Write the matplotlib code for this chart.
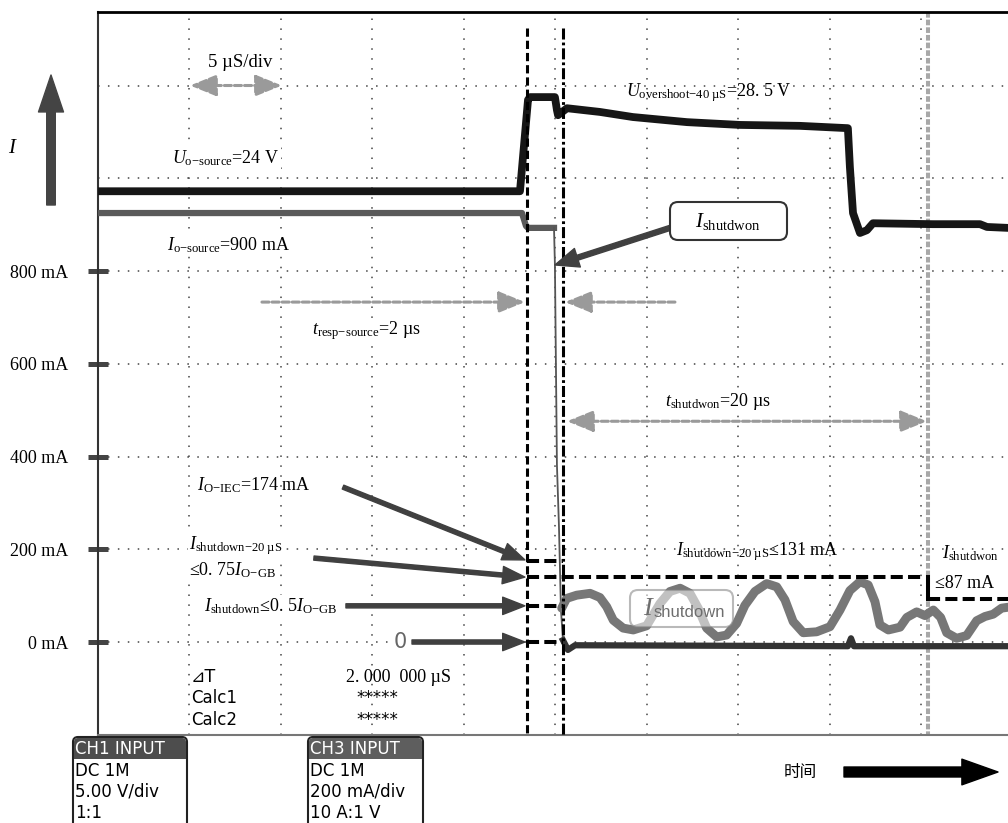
import matplotlib
matplotlib.use("Agg")
import matplotlib.pyplot as plt
from matplotlib.patches import FancyBboxPatch, FancyArrowPatch, Rectangle
from matplotlib.transforms import Affine2D

# ---------------------------------------------------------------------------
# data: time in us (5 us/div), level in mA on the CH3 scale (200 mA/div)
# ---------------------------------------------------------------------------
volt_t = [0.0, 23.06, 23.50, 23.61, 24.97, 25.08, 25.14, 25.63, 27.43, 29.23,
          32.19, 35.08, 38.36, 40.98, 41.09, 41.26, 41.64, 42.02, 42.35, 45.63,
          48.20, 48.58, 49.73]
volt_lvl = [972, 972, 1169, 1175, 1175, 1147, 1136, 1151, 1143, 1132,
            1121, 1115, 1113, 1108, 1024, 925, 882, 888, 903, 901,
            901, 895, 893]

cur_t = [0.0, 23.17, 23.39, 23.50, 24.92]
cur_lvl = [925, 925, 897, 893, 893]

drop_t = [24.92, 24.97, 25.08, 25.19, 25.30, 25.41]
drop_lvl = [893, 813, 382, 250, 69, 4]

zero_t = [25.41, 25.68, 26.07, 40.98, 41.15, 41.31, 49.73]
zero_lvl = [4, -17, -7, -9, 8, -9, -9]

wave_t = [25.34, 25.61, 26.16, 26.89, 27.43, 27.80, 28.16, 28.70, 29.25, 29.98,
          30.71, 31.26, 31.81, 32.35, 32.80, 33.26, 33.81, 34.35, 34.90, 35.35,
          35.90, 36.54, 37.09, 37.54, 37.99, 38.54, 39.27, 40.00, 40.55, 41.09,
          41.64, 42.09, 42.46, 42.73, 43.19, 43.83, 44.20, 44.74, 45.19, 45.65,
          46.05, 46.38, 46.92, 47.47, 48.02, 48.47, 48.92, 49.38, 49.73]
wave_lvl = [73, 94, 101, 105, 96, 76, 47, 30, 26, 35,
            83, 109, 116, 105, 73, 30, 11, 15, 40, 79,
            109, 126, 119, 91, 44, 20, 22, 33, 69, 111,
            130, 123, 87, 37, 26, 32, 53, 65, 57, 69,
            53, 20, 8, 14, 46, 55, 60, 73, 75]

t_trigger = 23.44       # black dashed cursor
t_response = 25.41      # black dash-dot cursor
t_after = 45.36         # grey dashed cursor, 20 us later
lvl_iec = 175
lvl_20us = 140
lvl_half = 78
lvl_after = 93

ytick_vals = [0, 200, 400, 600, 800]
ytick_labels = ["0 mA", "200 mA", "400 mA", "600 mA", "800 mA"]
grid_t = [5, 10, 15, 20, 25, 30, 35, 40, 45]
grid_lvl = [0, 200, 400, 600, 800, 1000, 1200]

ch1_rows = ["DC 1M", "5.00 V/div", "1:1"]
ch3_rows = ["DC 1M", "200 mA/div", "10 A:1 V"]

SERIF = "Liberation Serif"
BOXFONT = ["DejaVu Sans", "Noto Sans CJK SC"]
plt.rcParams["mathtext.fontset"] = "custom"
plt.rcParams["mathtext.rm"] = "Liberation Serif"
plt.rcParams["mathtext.it"] = "Liberation Serif:italic"
plt.rcParams["mathtext.sf"] = "Liberation Sans"

ARROW_C = "#404040"
GREY_C = "#9a9a9a"

fig = plt.figure(figsize=(10.08, 8.23), dpi=100)
ax = fig.add_axes([98 / 1008, 1 - 735 / 823, 910 / 1008, 723 / 823])
ax.set_xlim(0, 49.73)
ax.set_ylim(-200.5, 1358.5)

# pixel transform (origin top-left) for the screen furniture
PX = Affine2D().scale(0.01, -0.01).translate(0, 8.23) + fig.dpi_scale_trans

# spines / ticks
ax.spines["right"].set_visible(False)
ax.spines["top"].set_linewidth(2)
ax.spines["top"].set_color("black")
ax.spines["left"].set_linewidth(1.5)
ax.spines["left"].set_color("#333333")
ax.spines["bottom"].set_linewidth(1.5)
ax.spines["bottom"].set_color("#777777")
ax.set_xticks([])
ax.set_yticks(ytick_vals, labels=ytick_labels)
ax.tick_params(axis="y", direction="inout", length=14.4, width=3.6,
               color="#444444", pad=14, labelsize=13)
for lbl in ax.get_yticklabels():
    lbl.set_family(SERIF)

# dotted graticule
for g in grid_t:
    ax.axvline(g, color="#444444", lw=1.1, ls=(0, (1, 5.5)), zorder=0.5)
for g in grid_lvl:
    ax.axhline(g, color="#444444", lw=1.1, ls=(0, (1, 5.5)), zorder=0.5)

# traces
ax.plot(volt_t, volt_lvl, color="#161616", lw=5.6, solid_joinstyle="round", zorder=3)
ax.plot(cur_t, cur_lvl, color="#5a5a5a", lw=4.5, solid_joinstyle="round", zorder=3)
ax.plot(drop_t, drop_lvl, color="#555555", lw=1.3, zorder=3)
ax.plot(zero_t, zero_lvl, color="#333333", lw=4.5, solid_joinstyle="round", zorder=3)
ax.plot(wave_t, wave_lvl, color="#777777", lw=6.4, solid_joinstyle="round",
        solid_capstyle="round", zorder=3.5)

# cursors
ax.plot([t_trigger, t_trigger], [1324, -200], color="black", lw=2.2,
        ls=(0, (2.7, 1.3)), zorder=4)
ax.plot([t_response, t_response], [1324, -200], color="black", lw=2.2,
        ls=(0, (3.6, 1.0, 0.9, 1.0)), zorder=4)
ax.plot([t_after, t_after], [1358, -200], color="#a8a8a8", lw=2.9,
        ls=(0, (1.4, 0.5)), zorder=2.5)

dash_k = dict(color="black", lw=2.9, ls=(0, (3, 1.3)), zorder=4)
for lvl in [lvl_iec, lvl_half, 0]:
    ax.plot([t_trigger, t_response], [lvl, lvl], **dash_k)
ax.plot([t_trigger, t_after - 0.15], [lvl_20us, lvl_20us], **dash_k)
ax.plot([t_after, 49.73], [lvl_after, lvl_after], **dash_k)
ax.plot([t_after, t_after], [lvl_after, lvl_20us], color="black", lw=2.9, zorder=4)


def grey_arrow(x0, x1, y, style):
    ax.annotate("", xy=(x1, y), xytext=(x0, y),
                arrowprops=dict(arrowstyle=style + ",head_length=16,head_width=6.5",
                                mutation_scale=1, color=GREY_C, lw=2.2,
                                ls=(0, (2.3, 1.0)), shrinkA=0, shrinkB=0),
                zorder=4.5)


def dark_arrow(x0, y0, x1, y1, tail=3.0, hw=12.5, hl=16):
    ax.add_patch(FancyArrowPatch((x0, y0), (x1, y1),
                                 arrowstyle=f"simple,head_length={hl},head_width={hw},tail_width={tail}",
                                 mutation_scale=1, color=ARROW_C, shrinkA=0, shrinkB=0,
                                 zorder=5))


grey_arrow(5.03, 10.05, 1200, "<|-|>")
grey_arrow(8.96, 23.33, 733, "-|>")
grey_arrow(31.53, 25.52, 733, "-|>")
grey_arrow(25.63, 45.30, 476, "<|-|>")

dark_arrow(13.39, 334, 23.33, 177)
dark_arrow(11.80, 181, 23.33, 140)
dark_arrow(13.55, 78, 23.33, 78)
dark_arrow(17.16, 0, 23.33, 0)
dark_arrow(31.26, 893, 24.97, 813, tail=3.6, hw=14, hl=17)

WHITE = dict(fc="white", ec="none", pad=1)


def label(x, y, s, size=13, **kw):
    kw.setdefault("ha", "left")
    kw.setdefault("va", "center")
    ax.text(x, y, s, fontsize=size, family=SERIF, zorder=6, **kw)


label(7.76, 1249, "5 µS/div", 13.5, ha="center", bbox=WHITE)
label(4.04, 1044, r"$U_{\mathrm{o{-}source}}$=24 V", 13, bbox=WHITE)
label(3.77, 856, r"$I_{\mathrm{o{-}source}}$=900 mA", 13, bbox=WHITE)
label(28.85, 1184, r"$U_{\mathrm{overshoot{-}40\ µS}}$=28. 5 V", 13)
label(11.69, 671, r"$t_{\mathrm{resp{-}source}}$=2 µs", 13, bbox=WHITE)
label(30.98, 518, r"$t_{\mathrm{shutdwon}}$=20 µs", 13, bbox=WHITE)
label(5.41, 339, r"$I_{\mathrm{O{-}IEC}}$=174 mA", 13)
label(4.97, 209, r"$I_{\mathrm{shutdown{-}20\ µS}}$", 13, bbox=WHITE)
label(4.97, 155, r"≤0. 75$I_{\mathrm{O{-}GB}}$", 13, bbox=WHITE)
label(5.79, 78, r"$I_{\mathrm{shutdown}}$≤0. 5$I_{\mathrm{O{-}GB}}$", 13, bbox=WHITE)
label(31.58, 194, r"$I_{\mathrm{shutdown{-}20\ µS}}$≤131 mA", 13)
label(46.12, 192, r"$I_{\mathrm{shutdwon}}$", 13)
label(45.75, 127, "≤87 mA", 13)
ax.text(16.5, 0, "0", fontsize=15, family="DejaVu Sans", color="#666666",
        ha="center", va="center", zorder=6, bbox=WHITE)

# measurement readout
ax.text(5.08, -76, "⊿T", fontsize=12.5, family=BOXFONT, va="center", zorder=6)
ax.text(5.08, -121, "Calc1", fontsize=12, family=BOXFONT, va="center", zorder=6)
ax.text(5.08, -168, "Calc2", fontsize=12, family=BOXFONT, va="center", zorder=6)
label(13.55, -76, "2. 000  000 µS", 13)
ax.text(14.15, -121, "*****", fontsize=12, family=BOXFONT, va="center", zorder=6)
ax.text(14.15, -168, "*****", fontsize=12, family=BOXFONT, va="center", zorder=6)


# ---------------------------------------------------------------------------
# screen furniture in pixel coordinates
# ---------------------------------------------------------------------------
def rbox(x0, y0, x1, y1, r, fc, ec, lw=1.5, alpha=1.0, z=7):
    fig.add_artist(FancyBboxPatch((x0, y0), x1 - x0, y1 - y0,
                                  boxstyle=f"round,pad=0,rounding_size={r}",
                                  fc=fc, ec=ec, lw=lw, alpha=alpha,
                                  transform=PX, zorder=z))


# I_shutdwon callout
rbox(670, 202, 787, 240, 8, "white", "#333333", 1.5)
fig.text(728, 222, r"$I_{\mathrm{shutdwon}}$", fontsize=15, family=SERIF,
         ha="center", va="center", transform=PX, zorder=8)

# translucent I_shutdown tag on the wave
rbox(630, 590, 733, 627, 8, "white", "#808080", 1.5, alpha=0.55)
fig.text(643, 608, "$I$", fontsize=19, color="#6e6e6e", ha="left", va="center",
         transform=PX, zorder=8)
fig.text(654, 617, "shutdown", fontsize=12, family="Liberation Sans",
         color="#6e6e6e", ha="left", va="baseline", transform=PX, zorder=8)

# big current arrow on the left
fig.add_artist(FancyArrowPatch((51, 205), (51, 75), transform=PX,
                               arrowstyle="simple,head_length=26.6,head_width=18,tail_width=6.2",
                               mutation_scale=1, color="#444444", shrinkA=0, shrinkB=0))
fig.text(13, 147, "$I$", fontsize=15, ha="center", va="center", transform=PX)

# time arrow at the bottom
fig.text(800, 772, "时间", fontsize=12, family=["Noto Sans CJK SC", "DejaVu Sans"],
         ha="center", va="center", transform=PX)
fig.add_artist(FancyArrowPatch((844, 772), (998, 772), transform=PX,
                               arrowstyle="simple,head_length=26,head_width=18.5,tail_width=7.2",
                               mutation_scale=1, color="black", shrinkA=0, shrinkB=0))


def channel_box(x0, x1, title, rows, head_c):
    rbox(x0, 737, x1, 840, 5, "white", "#222222", 1.5, z=7)
    rbox(x0 + 1, 738, x1 - 1, 759, 4, head_c, "none", 0, z=7.5)
    fig.add_artist(Rectangle((x0 + 1, 752), x1 - x0 - 2, 7, fc=head_c, ec="none",
                             transform=PX, zorder=7.5))
    fig.text(x0 + 2, 749, title, color="white", fontsize=12, family=BOXFONT,
             ha="left", va="center", transform=PX, zorder=8)
    for i, r in enumerate(rows):
        fig.text(x0 + 2, 771 + 21 * i, r, fontsize=12, family=BOXFONT,
                 ha="left", va="center", transform=PX, zorder=8)


channel_box(73, 187, "CH1 INPUT", ch1_rows, "#4d4d4d")
channel_box(308, 423, "CH3 INPUT", ch3_rows, "#5e5e5e")

fig.savefig("out.png", dpi=100)
